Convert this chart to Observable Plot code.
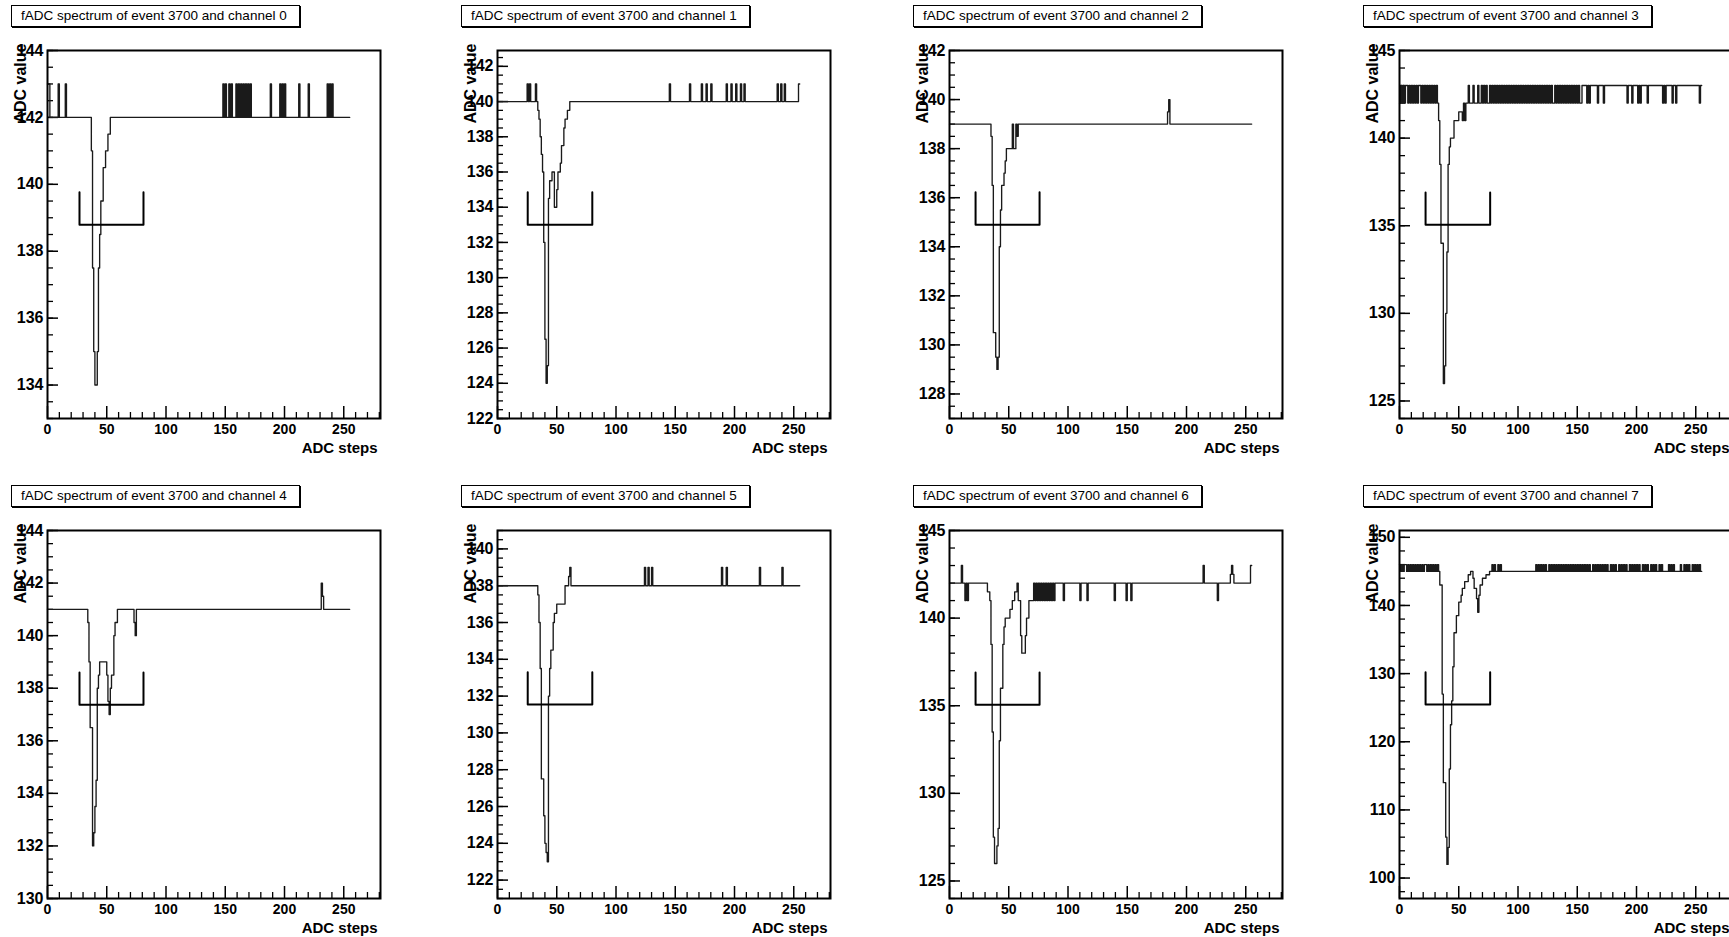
<!DOCTYPE html>
<html><head><meta charset="utf-8">
<script src="https://cdn.jsdelivr.net/npm/d3@7"></script>
<script src="https://cdn.jsdelivr.net/npm/@observablehq/plot@0.6"></script>
<style>
html,body{margin:0;padding:0;background:#fff;overflow:hidden;width:1729px;height:937px;}
#root{position:relative;width:1729px;height:937px;overflow:hidden;background:#fff;}
.cell{position:absolute;width:451px;height:480px;}
.title{position:absolute;left:11px;top:5px;width:289px;height:22px;box-sizing:border-box;border:1px solid #000;box-shadow:1px 1px 0 #000;
 font:13.5px "Liberation Sans",Arial,sans-serif;line-height:20px;padding-left:9px;white-space:nowrap;color:#000;background:#fff;}
.cell svg{position:absolute;left:0;top:30px;}
</style></head>
<body><div id="root"></div>
<script>
// ---------- data ----------
const channels = [0,1,2,3,4,5,6,7];
const eventNo = 3700;
const xTicks = [0,50,100,150,200,250];
const xMinorTicks = [10,20,30,40,60,70,80,90,110,120,130,140,160,170,180,190,210,220,230,240,260,270,280];
const xDomain = [0,281];
const sampleEnd = 255;
const yDomains = [[133,144],[122,142.9],[127,142],[124,145],[130,144],[121,141],[124,145],[97,151]];
const yTicks = [
  [134,136,138,140,142,144],
  [122,124,126,128,130,132,134,136,138,140,142],
  [128,130,132,134,136,138,140,142],
  [125,130,135,140,145],
  [130,132,134,136,138,140,142,144],
  [122,124,126,128,130,132,134,136,138,140],
  [125,130,135,140,145],
  [100,110,120,130,140,150]
];
const yMinorStep = [0.5,0.5,0.5,1,0.5,0.5,1,2];

// waveform: [sample, value] change points, and single-sample spikes
const ch0Steps = [[0,143],[2,142],[37,141],[38,137.5],[39,135],[40,134],[42,135],[43,137.5],[44,138.5],[45,139.5],[47,140.5],[49,141],[51,141.5],[53,142]];
const ch0Spikes = [[9,143],[15,143],[148,143],[150,143],[153,143],[155,143],[159,143],[161,143],[163,143],[165,143],[167,143],[169,143],[171,143],[188,143],[196,143],[198,143],[200,143],[212,143],[220,143],[236,143],[238,143],[240,143]];
const ch1Steps = [[0,140],[34,139.5],[35,139],[36,138],[37,137],[38,136],[39,132],[40,126.5],[41,124],[42,125],[43,134.5],[44,135.5],[46,136],[48,134],[50,135],[51,136],[53,136.5],[54,137.5],[56,138.5],[57,139],[59,139.5],[61,140]];
const ch1Spikes = [[25,141],[27,141],[32,141],[145,141],[162,141],[172,141],[176,141],[180,141],[193,141],[197,141],[201,141],[205,141],[208,141],[236,141],[239,141],[242,141],[254,141]];
const ch2Steps = [[0,139],[35,138.5],[36,136.5],[37,130.5],[39,129.5],[40,129],[41,129.5],[42,134],[43,135.5],[44,136.5],[46,137],[47,137.5],[48,138],[53,139],[54,138],[56,139],[57,138.5],[58,139]];
const ch2Spikes = [[184,139.5],[185,140]];
const ch3Steps = [[0,142],[33,141],[34,138.5],[35,134],[37,126],[38,127],[39,130],[40,133.5],[41,138.5],[42,139.5],[43,140],[46,141],[50,141.5],[53,141],[54,142],[55,141],[56,142],[154,143]];
const ch3Spikes = [[1,143],[3,143],[5,143],[6,143],[8,143],[10,143],[12,143],[14,143],[16,143],[17,143],[19,143],[21,143],[23,143],[25,143],[27,143],[29,143],[31,143],
  [58,143],[62,143],[66,143],[69,143],[71,143],[73,143],[76,143],[78,143],[80,143],[82,143],[84,143],[86,143],[88,143],[90,143],[92,143],[94,143],[96,143],[98,143],[100,143],[102,143],[104,143],[106,143],[108,143],[110,143],[112,143],[114,143],[116,143],[118,143],[120,143],[122,143],[124,143],[126,143],[128,143],[131,143],[133,143],[135,143],[137,143],[139,143],[141,143],[143,143],[145,143],[147,143],[149,143],[151,143],
  [158,142],[160,142],[167,142],[172,142],[192,142],[196,142],[201,142],[203,142],[209,142],[222,142],[224,142],[230,142],[233,142],[253,142]];
const ch4Steps = [[0,141],[34,140.5],[35,139],[36,136.5],[38,132],[39,132.5],[40,133.5],[41,134.5],[42,138],[43,138.5],[44,139],[50,138.5],[51,137.5],[52,137],[53,138],[54,138.5],[56,140],[57,140.5],[59,141],[73,140.5],[74,140],[75,141]];
const ch4Spikes = [[231,142],[232,141.5]];
const ch5Steps = [[0,138],[34,137.5],[35,136],[36,133.5],[37,127.5],[39,125.5],[40,124],[41,123.5],[42,123],[43,132],[44,133.5],[45,134.5],[47,136],[48,136.5],[50,137],[57,138],[60,138.5],[61,139],[62,138]];
const ch5Spikes = [[124,139],[127,139],[130,139],[189,139],[193,139],[221,139],[240,139]];
const ch6Steps = [[0,142],[10,143],[11,142],[13,141],[14,142],[15,141],[16,142],[32,141.5],[34,141],[35,138.5],[36,133.5],[37,127.5],[38,126],[40,127],[41,128],[42,133],[43,136],[45,138.5],[46,139.5],[47,140],[51,140.5],[53,141],[55,141.5],[57,142],[58,141],[60,139],[61,138],[64,139],[65,140],[67,141],[71,142]];
const ch6Spikes = [[72,141],[74,141],[76,141],[78,141],[80,141],[82,141],[84,141],[86,141],[88,141],[96,141],[110,141],[116,141],[139,141],[149,141],[153,141],[214,143],[226,141],[237,142.5],[238,143],[239,142.5],[254,143]];
const ch7Steps = [[0,145],[34,143],[36,127],[37,114],[39,106],[40,102],[41,104.5],[42,116],[43,122.5],[44,126],[45,131],[46,136],[48,138.5],[50,140.5],[52,141.5],[53,142.5],[55,143.5],[58,144.5],[60,145],[62,144],[63,142.5],[65,141],[66,139],[67,141.5],[68,143],[70,144],[73,144.5],[76,145]];
const ch7Spikes = [[0,146],[2,146],[4,146],[5,146],[7,146],[9,146],[11,146],[13,146],[15,146],[17,146],[19,146],[21,146],[22,146],[24,146],[26,146],[28,146],[30,146],[32,146],
  [78,146],[80,146],[83,146],[85,146],
  [115,146],[117,146],[119,146],[121,146],[123,146],[126,146],[128,146],[130,146],[132,146],[134,146],[136,146],[138,146],[140,146],[142,146],[144,146],[146,146],[148,146],[150,146],[152,146],[154,146],[156,146],[158,146],[160,146],[163,146],[165,146],[167,146],[169,146],[171,146],[173,146],[175,146],[178,146],[180,146],[182,146],[185,146],[187,146],[189,146],[191,146],[194,146],[196,146],[198,146],[200,146],[202,146],[205,146],[207,146],[209,146],[212,146],[214,146],[216,146],[219,146],[221,146],[227,146],[229,146],[231,146],[237,146],[240,146],[242,146],[244,146],[247,146],[249,146],[251,146],[253,146]];
const stepsByChannel = [ch0Steps,ch1Steps,ch2Steps,ch3Steps,ch4Steps,ch5Steps,ch6Steps,ch7Steps];
const spikesByChannel = [ch0Spikes,ch1Spikes,ch2Spikes,ch3Spikes,ch4Spikes,ch5Spikes,ch6Spikes,ch7Spikes];

// threshold bracket per channel
const bracketX1 = [27,25.5,22,22,27,25.5,22,22];
const bracketX2 = [81,80,76,76.5,81,80,76,76.5];
const bracketLevel = [138.79,133.0,134.9,135.05,137.37,131.54,135.05,125.45];
const bracketTop = [139.76,134.85,136.22,136.9,138.6,133.29,136.9,130.2];

// ---------- layout ----------
const colLeft = [0,450,902,1352];
const rowTop = [0,480];
const W = 451, H = 450, mL = 47, mR = 71, mT = 20, mB = 62;
const fw = W - mL - mR, fh = H - mT - mB;
const font = "Liberation Sans, Arial, Helvetica, sans-serif";

function decode(steps, spikes){
  const vals = [];
  let j = 0;
  for (let i = 0; i < sampleEnd; i++){
    while (j + 1 < steps.length && steps[j+1][0] <= i) j++;
    vals[i] = steps[j][1];
  }
  for (const [x, v] of spikes) vals[x] = v;
  const pts = vals.map((v, i) => ({x: i, y: v}));
  pts.push({x: sampleEnd, y: vals[sampleEnd - 1]});
  return pts;
}

const root = document.getElementById("root");
channels.forEach((c, i) => {
  const cell = document.createElement("div");
  cell.className = "cell";
  cell.style.left = colLeft[i % 4] + "px";
  cell.style.top = rowTop[Math.floor(i / 4)] + "px";
  const t = document.createElement("div");
  t.className = "title";
  t.textContent = `fADC spectrum of event ${eventNo} and channel ${c}`;
  cell.appendChild(t);

  const series = decode(stepsByChannel[i], spikesByChannel[i]);
  const bracket = [
    {x: bracketX1[i], y: bracketTop[i]}, {x: bracketX1[i], y: bracketLevel[i]},
    {x: bracketX2[i], y: bracketLevel[i]}, {x: bracketX2[i], y: bracketTop[i]}
  ];
  const [y0, y1] = yDomains[i];
  const minorY = d3.range(Math.ceil(y0 / yMinorStep[i]) * yMinorStep[i], y1 + 1e-9, yMinorStep[i]);

  const svg = Plot.plot({
    width: W, height: H, marginLeft: mL, marginRight: mR, marginTop: mT, marginBottom: mB,
    x: {domain: xDomain, axis: null},
    y: {domain: yDomains[i], axis: null},
    style: {fontFamily: font, background: "transparent", color: "#000"},
    marks: [
      Plot.tickY(minorY, {y: d => d, insetRight: fw - 6, stroke: "#000", strokeWidth: 1.3}),
      Plot.tickY(yTicks[i], {y: d => d, insetRight: fw - 11, stroke: "#000", strokeWidth: 1.5}),
      Plot.tickX(xMinorTicks, {x: d => d, insetTop: fh - 6, stroke: "#000", strokeWidth: 1.3}),
      Plot.tickX(xTicks, {x: d => d, insetTop: fh - 12, stroke: "#000", strokeWidth: 1.5}),
      Plot.line(series, {x: "x", y: "y", curve: "step-after", stroke: "#1a1a1a", strokeWidth: 1.35}),
      Plot.line(bracket, {x: "x", y: "y", stroke: "#000", strokeWidth: 2}),
      Plot.frame({stroke: "#000", strokeWidth: 2}),
      Plot.text(yTicks[i], {y: d => d, text: d => String(d), frameAnchor: "left", lineAnchor: "middle", textAnchor: "end", dx: -4,
        fontSize: 16, fontWeight: "bold", fill: "#000"}),
      Plot.text(xTicks, {x: d => d, text: d => String(d), frameAnchor: "bottom", lineAnchor: "middle", dy: 11,
        fontSize: 14, fontWeight: "bold", fill: "#000"}),
      Plot.text(["ADC steps"], {text: d => d, frameAnchor: "bottom-right", lineAnchor: "middle", textAnchor: "end", dx: -3, dy: 30,
        fontSize: 15, fontWeight: "bold", fill: "#000"}),
      Plot.text(["ADC value"], {text: d => d, frameAnchor: "top-left", lineAnchor: "middle", rotate: -90, textAnchor: "end", dx: -27, dy: -7,
        fontSize: 16, fontWeight: "bold", fill: "#000"})
    ]
  });
  cell.appendChild(svg);
  root.appendChild(cell);
});
</script>
</body></html>
